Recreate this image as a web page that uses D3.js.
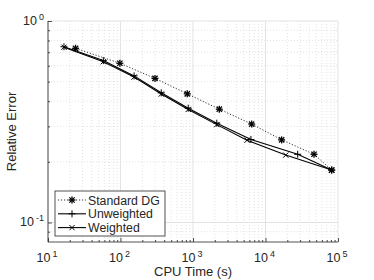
<!DOCTYPE html>
<html><head><meta charset="utf-8">
<script src="https://cdn.jsdelivr.net/npm/d3@7"></script>
<style>
body{margin:0;background:#fff;}
svg{display:block;font-family:"Liberation Sans",Arial,sans-serif;}
</style></head>
<body><svg id="c" width="374" height="280"></svg>
<script>
// Data
const stdX = [24, 98, 299, 834, 2306, 6450, 16700, 46700, 81800];
const stdY = [0.732, 0.617, 0.519, 0.435, 0.365, 0.308, 0.257, 0.218, 0.182];
const unwX = [16.6, 58, 154, 365, 860, 2130, 6300, 27800, 81800];
const unwY = [0.745, 0.636, 0.534, 0.440, 0.369, 0.311, 0.258, 0.218, 0.182];
const wtdX = [16.6, 58, 154, 365, 860, 2130, 5560, 19000, 81800];
const wtdY = [0.741, 0.628, 0.527, 0.434, 0.364, 0.306, 0.256, 0.216, 0.182];
const xMajor = [10, 100, 1000, 10000, 100000];
const xExp = ["1", "2", "3", "4", "5"];
const yMajor = [0.1, 1];
const yExp = ["-1", "0"];
const legendLabels = ["Standard DG", "Unweighted", "Weighted"];

const svg = d3.select("#c");
const L = 48, R = 338, T = 21, B = 242;
const x = d3.scaleLog().domain([10, 100000]).range([L, R]);
const y = d3.scaleLog().domain([0.08, 1]).range([B, T]);

const xMinor = [];
for (let d = 10; d < 100000; d *= 10) for (let k = 2; k <= 9; k++) xMinor.push(d * k);
const yMinor = [0.09];
for (let k = 2; k <= 9; k++) yMinor.push(k / 10);

const axisCol = "#262626";
// grid
const g = svg.append("g");
g.selectAll(".vmin").data(xMinor).join("line")
  .attr("x1", d => x(d)).attr("x2", d => x(d)).attr("y1", T).attr("y2", B)
  .attr("stroke", "#cfcfcf").attr("stroke-width", 0.6).attr("stroke-dasharray", "1,2");
g.selectAll(".hmin").data(yMinor).join("line")
  .attr("x1", L).attr("x2", R).attr("y1", d => y(d)).attr("y2", d => y(d))
  .attr("stroke", "#cfcfcf").attr("stroke-width", 0.6).attr("stroke-dasharray", "1,2");
g.selectAll(".vmaj").data(xMajor).join("line")
  .attr("x1", d => x(d)).attr("x2", d => x(d)).attr("y1", T).attr("y2", B)
  .attr("stroke", "#e3e3e3").attr("stroke-width", 1);
g.selectAll(".hmaj").data(yMajor).join("line")
  .attr("x1", L).attr("x2", R).attr("y1", d => y(d)).attr("y2", d => y(d))
  .attr("stroke", "#e3e3e3").attr("stroke-width", 1);

// axes
const xa = svg.append("g").attr("transform", `translate(0,${B})`)
  .call(d3.axisBottom(x).tickValues(xMajor).tickSize(-4).tickFormat(""));
const xm = svg.append("g").attr("transform", `translate(0,${B})`)
  .call(d3.axisBottom(x).tickValues(xMinor).tickSize(-2).tickFormat(""));
const ya = svg.append("g").attr("transform", `translate(${L},0)`)
  .call(d3.axisLeft(y).tickValues(yMajor).tickSize(-4).tickFormat(""));
const ym = svg.append("g").attr("transform", `translate(${L},0)`)
  .call(d3.axisLeft(y).tickValues(yMinor).tickSize(-2).tickFormat(""));
[xa, xm, ya, ym].forEach(a => {
  a.selectAll("path").attr("stroke", axisCol).attr("stroke-width", 0.8);
  a.selectAll("line").attr("stroke", axisCol).attr("stroke-width", 0.8);
});
xm.select("path").remove(); ym.select("path").remove();
xa.select("path").attr("d", `M${L},0H${R}`);
ya.select("path").attr("d", `M0,${T}V${B}`);

// tick labels
xMajor.forEach((v, i) => {
  const t = svg.append("text").attr("x", x(v) - 1).attr("y", 262)
    .attr("text-anchor", "middle").attr("fill", axisCol).attr("font-size", 12.5);
  t.append("tspan").text("10");
  t.append("tspan").attr("dy", -5.5).attr("dx", 2).attr("font-size", 9).text(xExp[i]);
});
yMajor.forEach((v, i) => {
  const t = svg.append("text").attr("x", 44).attr("y", y(v) + 4)
    .attr("text-anchor", "end").attr("fill", axisCol).attr("font-size", 12.5);
  t.append("tspan").text("10");
  t.append("tspan").attr("dy", -5.5).attr("dx", 2).attr("font-size", 9).text(yExp[i]);
});

// axis labels
svg.append("text").attr("x", 193).attr("y", 276).attr("text-anchor", "middle")
  .attr("font-size", 13).attr("fill", axisCol).text("CPU Time (s)");
svg.append("text").attr("transform", `translate(16,${(T + B) / 2}) rotate(-90)`)
  .attr("text-anchor", "middle").attr("font-size", 13).attr("fill", axisCol).text("Relative Error");

// markers
function marker(sel, type, cx, cy, s) {
  const gg = sel.append("g").attr("transform", `translate(${cx},${cy})`)
    .attr("stroke", "#000").attr("fill", "none");
  if (type === "star" || type === "plus") {
    gg.append("line").attr("x1", -s).attr("x2", s).attr("y1", 0).attr("y2", 0);
    gg.append("line").attr("y1", -s).attr("y2", s).attr("x1", 0).attr("x2", 0);
  }
  if (type === "star" || type === "x") {
    const a = s * 0.75;
    gg.append("line").attr("x1", -a).attr("x2", a).attr("y1", -a).attr("y2", a);
    gg.append("line").attr("x1", -a).attr("x2", a).attr("y1", a).attr("y2", -a);
  }
  gg.attr("stroke-width", type === "star" ? 1.3 : 1);
}

const line = d3.line().x(d => x(d[0])).y(d => y(d[1]));
const series = [
  {xs: stdX, ys: stdY, dash: "1.2,1.8", w: 0.8, m: "star"},
  {xs: unwX, ys: unwY, dash: null, w: 1.1, m: "plus"},
  {xs: wtdX, ys: wtdY, dash: null, w: 1.1, m: "x"}
];
series.forEach(s => {
  const pts = s.xs.map((v, i) => [v, s.ys[i]]);
  svg.append("path").datum(pts).attr("d", line).attr("fill", "none")
    .attr("stroke", "#000").attr("stroke-width", s.w)
    .attr("stroke-dasharray", s.dash);
  pts.forEach(p => marker(svg, s.m, x(p[0]), y(p[1]), 3.5));
});

// legend
const lg = svg.append("g");
lg.append("rect").attr("x", 55).attr("y", 191).attr("width", 110).attr("height", 45)
  .attr("fill", "#fff").attr("stroke", axisCol).attr("stroke-width", 0.8);
legendLabels.forEach((lab, i) => {
  const yy = 200 + i * 13.8;
  const s = series[i];
  lg.append("line").attr("x1", 58).attr("x2", 86).attr("y1", yy).attr("y2", yy)
    .attr("stroke", "#000").attr("stroke-width", s.w).attr("stroke-dasharray", s.dash);
  marker(lg, s.m, 72, yy, 3.5);
  lg.append("text").attr("x", 88).attr("y", yy + 4.5).attr("font-size", 12.3)
    .attr("fill", axisCol).text(lab);
});
</script></body></html>
